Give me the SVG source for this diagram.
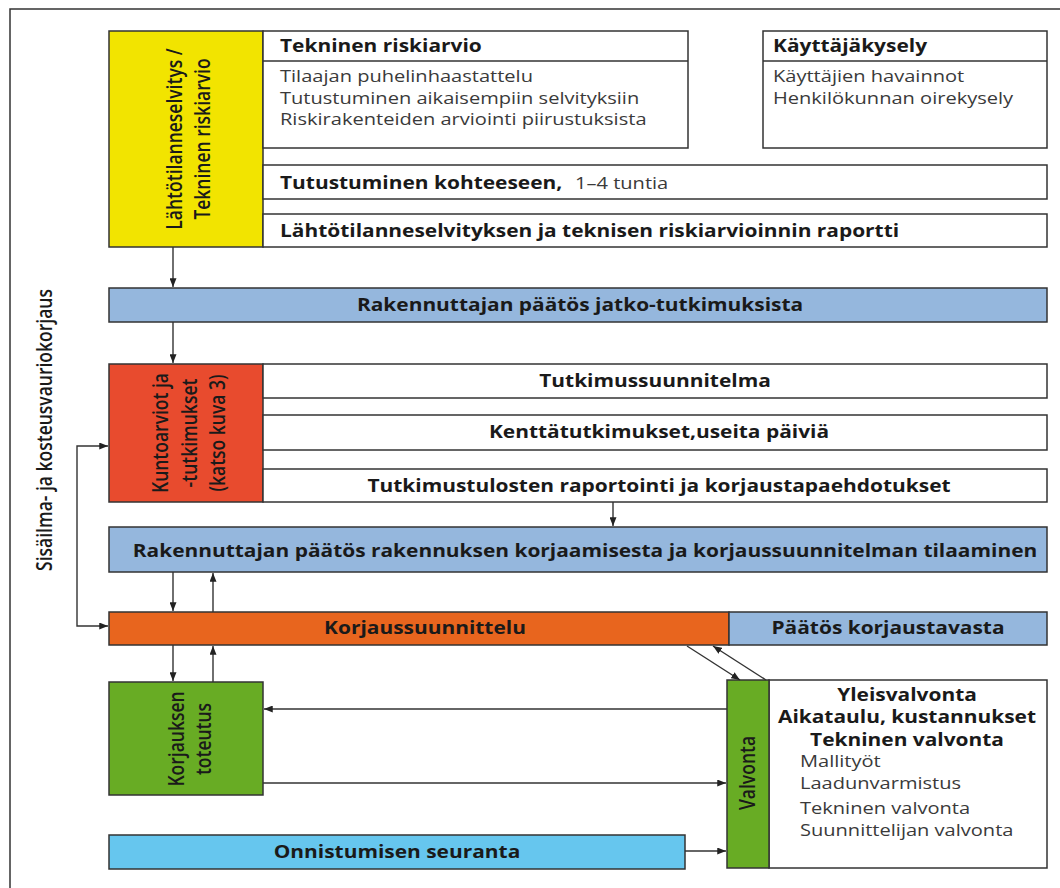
<svg xmlns="http://www.w3.org/2000/svg" width="1060" height="888" viewBox="0 0 1060 888">
<defs>
<marker id="ah" viewBox="0 0 10 8" refX="10" refY="4" markerWidth="9" markerHeight="7" markerUnits="userSpaceOnUse" orient="auto-start-reverse">
<path d="M0,0 L10,4 L0,8 Z" fill="#222"/>
</marker>
<style>
.bx{stroke:#333;stroke-width:1.5}
.wt{fill:#fff}
.t{font-family:"Open Sans","Noto Sans",sans-serif;font-size:17px;fill:#1a1a1a}
.b{font-weight:700}
.r{font-weight:400;fill:#3a3a3a}
.v{font-family:"Open Sans","Noto Sans",sans-serif;font-size:17.5px;font-weight:600;fill:#1a1a1a;text-anchor:middle}
.m{text-anchor:middle}
.cn{fill:none;stroke:#333;stroke-width:1.4}
</style>
</defs>
<rect width="1060" height="888" fill="#fff"/>
<path d="M10,888 V9 H1060" fill="none" stroke="#333" stroke-width="1.5"/>
<g id="side-label">
<text class="v" transform="matrix(0 -1 1.18 0 52 430)">Sisäilma- ja kosteusvauriokorjaus</text>
</g>
<g id="lahtotilanne">
<rect class="bx" x="109" y="31" width="154" height="216" fill="#F2E400"/>
<text class="v" transform="matrix(0 -1 1.18 0 182 139)">Lähtötilanneselvitys /</text>
<text class="v" transform="matrix(0 -1 1.18 0 210 139)">Tekninen riskiarvio</text>
</g>
<g id="tekninen-riskiarvio">
<rect class="bx wt" x="263" y="31" width="425" height="117"/>
<line class="bx" x1="263" y1="61" x2="688" y2="61"/>
<text class="t b" transform="matrix(1.23 0 0 1 280 52)">Tekninen riskiarvio</text>
<text class="t r" transform="matrix(1.18 0 0 1 280 82)">Tilaajan puhelinhaastattelu</text>
<text class="t r" transform="matrix(1.18 0 0 1 280 104)">Tutustuminen aikaisempiin selvityksiin</text>
<text class="t r" transform="matrix(1.18 0 0 1 280 125)">Riskirakenteiden arviointi piirustuksista</text>
</g>
<g id="kayttajakysely">
<rect class="bx wt" x="763" y="31" width="284" height="117"/>
<line class="bx" x1="763" y1="61" x2="1047" y2="61"/>
<text class="t b" transform="matrix(1.23 0 0 1 773 52)">Käyttäjäkysely</text>
<text class="t r" transform="matrix(1.18 0 0 1 773 82)">Käyttäjien havainnot</text>
<text class="t r" transform="matrix(1.18 0 0 1 773 104)">Henkilökunnan oirekysely</text>
</g>
<g id="tutustuminen">
<rect class="bx wt" x="263" y="165" width="784" height="34"/>
<text class="t b" transform="matrix(1.23 0 0 1 280 189)">Tutustuminen kohteeseen,</text>
<text class="t r" transform="matrix(1.18 0 0 1 575 189)">1–4 tuntia</text>
</g>
<g id="raportti">
<rect class="bx wt" x="263" y="214" width="784" height="33"/>
<text class="t b" transform="matrix(1.23 0 0 1 280 237)">Lähtötilanneselvityksen ja teknisen riskiarvioinnin raportti</text>
</g>
<g id="paatos-jatko">
<rect class="bx" x="109" y="288" width="938" height="34" fill="#95B7DD"/>
<text class="t b m" transform="matrix(1.23 0 0 1 580 311)">Rakennuttajan päätös jatko-tutkimuksista</text>
</g>
<g id="kuntoarviot">
<rect class="bx" x="109" y="364" width="154" height="138" fill="#E84B2E"/>
<text class="v" transform="matrix(0 -1 1.18 0 168 433)">Kuntoarviot ja</text>
<text class="v" transform="matrix(0 -1 1.18 0 197 433)">-tutkimukset</text>
<text class="v" transform="matrix(0 -1 1.18 0 225 433)">(katso kuva 3)</text>
</g>
<g id="tutkimussuunnitelma">
<rect class="bx wt" x="263" y="364" width="784" height="34"/>
<text class="t b m" transform="matrix(1.23 0 0 1 655 387)">Tutkimussuunnitelma</text>
</g>
<g id="kenttatutkimukset">
<rect class="bx wt" x="263" y="415" width="784" height="35"/>
<text class="t b m" transform="matrix(1.23 0 0 1 659 438)">Kenttätutkimukset,useita päiviä</text>
</g>
<g id="tutkimustulosten-raportointi">
<rect class="bx wt" x="263" y="469" width="784" height="33"/>
<text class="t b m" transform="matrix(1.23 0 0 1 659 492)">Tutkimustulosten raportointi ja korjaustapaehdotukset</text>
</g>
<g id="paatos-korjaaminen">
<rect class="bx" x="109" y="527" width="938" height="45" fill="#95B7DD"/>
<text class="t b m" transform="matrix(1.23 0 0 1 585 557)">Rakennuttajan päätös rakennuksen korjaamisesta ja korjaussuunnitelman tilaaminen</text>
</g>
<g id="korjaussuunnittelu">
<rect class="bx" x="109" y="612" width="620" height="33" fill="#E8651E"/>
<text class="t b m" transform="matrix(1.23 0 0 1 425 634)">Korjaussuunnittelu</text>
</g>
<g id="paatos-korjaustavasta">
<rect class="bx" x="729" y="612" width="318" height="33" fill="#95B7DD"/>
<text class="t b m" transform="matrix(1.23 0 0 1 888 634)">Päätös korjaustavasta</text>
</g>
<g id="korjauksen-toteutus">
<rect class="bx" x="109" y="682" width="154" height="113" fill="#68AC24"/>
<text class="v" transform="matrix(0 -1 1.18 0 184 739)">Korjauksen</text>
<text class="v" transform="matrix(0 -1 1.18 0 211 739)">toteutus</text>
</g>
<g id="valvonta">
<rect class="bx wt" x="769" y="680" width="278" height="188"/>
<rect class="bx" x="727" y="680" width="42" height="188" fill="#68AC24"/>
<text class="v" transform="matrix(0 -1 1.18 0 755 773)">Valvonta</text>
<text class="t b m" transform="matrix(1.23 0 0 1 907 701)">Yleisvalvonta</text>
<text class="t b m" transform="matrix(1.23 0 0 1 907 723)">Aikataulu, kustannukset</text>
<text class="t b m" transform="matrix(1.23 0 0 1 907 746)">Tekninen valvonta</text>
<text class="t r" transform="matrix(1.18 0 0 1 800 767)">Mallityöt</text>
<text class="t r" transform="matrix(1.18 0 0 1 800 789)">Laadunvarmistus</text>
<text class="t r" transform="matrix(1.18 0 0 1 800 814)">Tekninen valvonta</text>
<text class="t r" transform="matrix(1.18 0 0 1 800 836)">Suunnittelijan valvonta</text>
</g>
<g id="onnistumisen-seuranta">
<rect class="bx" x="109" y="835" width="576" height="34" fill="#66C6EE"/>
<text class="t b m" transform="matrix(1.23 0 0 1 397 858)">Onnistumisen seuranta</text>
</g>
<g id="connectors">
<path class="cn" d="M173,247 V287" marker-end="url(#ah)"/>
<path class="cn" d="M173,322 V363" marker-end="url(#ah)"/>
<path class="cn" d="M613,502 V526" marker-end="url(#ah)"/>
<path class="cn" d="M173,572 V611" marker-end="url(#ah)"/>
<path class="cn" d="M213,612 V573" marker-end="url(#ah)"/>
<path class="cn" d="M173,645 V681" marker-end="url(#ah)"/>
<path class="cn" d="M213,682 V646" marker-end="url(#ah)"/>
<path class="cn" d="M108,446 H77 V626 H108" marker-start="url(#ah)" marker-end="url(#ah)"/>
<path class="cn" d="M727,709 H264" marker-end="url(#ah)"/>
<path class="cn" d="M263,783 H726" marker-end="url(#ah)"/>
<path class="cn" d="M685,851 H726" marker-end="url(#ah)"/>
<path class="cn" d="M687,646 L740,680" marker-end="url(#ah)"/>
<path class="cn" d="M766,680 L713,646" marker-end="url(#ah)"/>
</g>
</svg>
